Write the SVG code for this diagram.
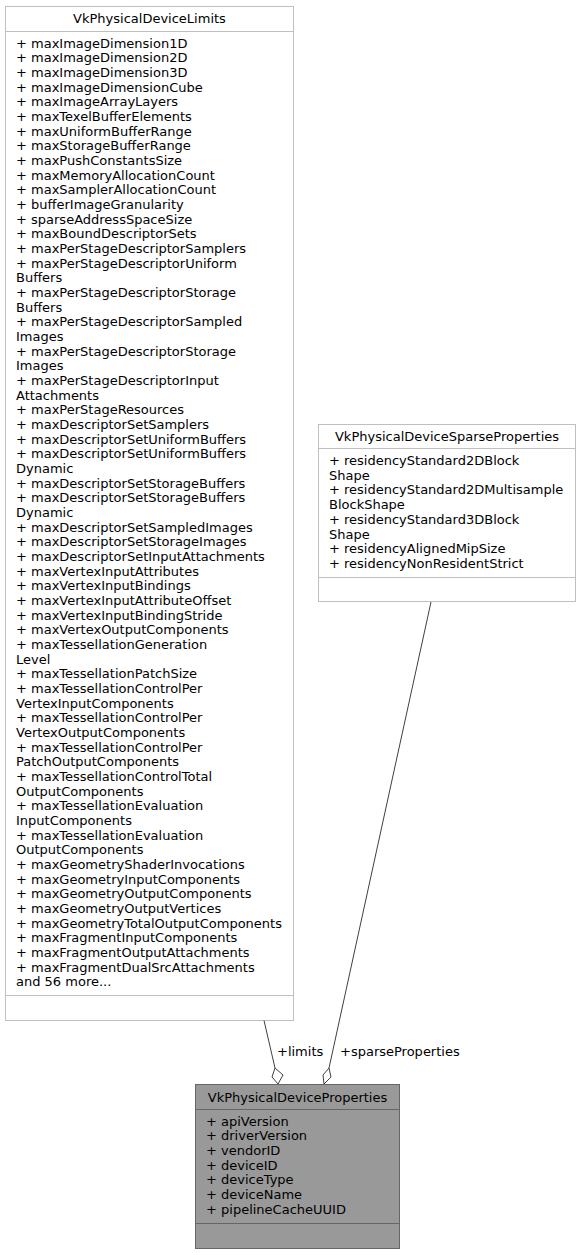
<svg xmlns="http://www.w3.org/2000/svg" width="581" height="1255" viewBox="0 0 581 1255">
<style>
.box{fill:#ffffff;stroke:#bfbfbf;stroke-width:1}
.boxg{fill:#999999;stroke:#666666;stroke-width:1}
.sep{stroke:#bfbfbf;stroke-width:1}
.sepg{stroke:#666666;stroke-width:1}
text{font-family:"DejaVu Sans",sans-serif;font-size:13px;fill:#000000}
.t{text-anchor:middle}
.edge{stroke:#404040;stroke-width:1;fill:none}
.dia{fill:#ffffff;stroke:#404040;stroke-width:1}
</style>
<rect width="581" height="1255" fill="#ffffff"/>
<g id="node-limits">
<rect class="box" x="5.5" y="6.5" width="288" height="1014"/>
<line class="sep" x1="5.5" y1="31.5" x2="293.5" y2="31.5"/>
<line class="sep" x1="5.5" y1="995.5" x2="293.5" y2="995.5"/>
<text class="t" x="149.5" y="23">VkPhysicalDeviceLimits</text>
<text x="16" y="47.5">+ maxImageDimension1D</text>
<text x="16" y="62.17">+ maxImageDimension2D</text>
<text x="16" y="76.84">+ maxImageDimension3D</text>
<text x="16" y="91.51">+ maxImageDimensionCube</text>
<text x="16" y="106.18">+ maxImageArrayLayers</text>
<text x="16" y="120.85">+ maxTexelBufferElements</text>
<text x="16" y="135.52">+ maxUniformBufferRange</text>
<text x="16" y="150.19">+ maxStorageBufferRange</text>
<text x="16" y="164.86">+ maxPushConstantsSize</text>
<text x="16" y="179.53">+ maxMemoryAllocationCount</text>
<text x="16" y="194.2">+ maxSamplerAllocationCount</text>
<text x="16" y="208.87">+ bufferImageGranularity</text>
<text x="16" y="223.54">+ sparseAddressSpaceSize</text>
<text x="16" y="238.21">+ maxBoundDescriptorSets</text>
<text x="16" y="252.88">+ maxPerStageDescriptorSamplers</text>
<text x="16" y="267.55">+ maxPerStageDescriptorUniform</text>
<text x="16" y="282.22">Buffers</text>
<text x="16" y="296.89">+ maxPerStageDescriptorStorage</text>
<text x="16" y="311.56">Buffers</text>
<text x="16" y="326.23">+ maxPerStageDescriptorSampled</text>
<text x="16" y="340.9">Images</text>
<text x="16" y="355.57">+ maxPerStageDescriptorStorage</text>
<text x="16" y="370.24">Images</text>
<text x="16" y="384.91">+ maxPerStageDescriptorInput</text>
<text x="16" y="399.58">Attachments</text>
<text x="16" y="414.25">+ maxPerStageResources</text>
<text x="16" y="428.92">+ maxDescriptorSetSamplers</text>
<text x="16" y="443.59">+ maxDescriptorSetUniformBuffers</text>
<text x="16" y="458.26">+ maxDescriptorSetUniformBuffers</text>
<text x="16" y="472.93">Dynamic</text>
<text x="16" y="487.6">+ maxDescriptorSetStorageBuffers</text>
<text x="16" y="502.27">+ maxDescriptorSetStorageBuffers</text>
<text x="16" y="516.94">Dynamic</text>
<text x="16" y="531.61">+ maxDescriptorSetSampledImages</text>
<text x="16" y="546.28">+ maxDescriptorSetStorageImages</text>
<text x="16" y="560.95">+ maxDescriptorSetInputAttachments</text>
<text x="16" y="575.62">+ maxVertexInputAttributes</text>
<text x="16" y="590.29">+ maxVertexInputBindings</text>
<text x="16" y="604.96">+ maxVertexInputAttributeOffset</text>
<text x="16" y="619.63">+ maxVertexInputBindingStride</text>
<text x="16" y="634.3">+ maxVertexOutputComponents</text>
<text x="16" y="648.97">+ maxTessellationGeneration</text>
<text x="16" y="663.64">Level</text>
<text x="16" y="678.31">+ maxTessellationPatchSize</text>
<text x="16" y="692.98">+ maxTessellationControlPer</text>
<text x="16" y="707.65">VertexInputComponents</text>
<text x="16" y="722.32">+ maxTessellationControlPer</text>
<text x="16" y="736.99">VertexOutputComponents</text>
<text x="16" y="751.66">+ maxTessellationControlPer</text>
<text x="16" y="766.33">PatchOutputComponents</text>
<text x="16" y="781">+ maxTessellationControlTotal</text>
<text x="16" y="795.67">OutputComponents</text>
<text x="16" y="810.34">+ maxTessellationEvaluation</text>
<text x="16" y="825.01">InputComponents</text>
<text x="16" y="839.68">+ maxTessellationEvaluation</text>
<text x="16" y="854.35">OutputComponents</text>
<text x="16" y="869.02">+ maxGeometryShaderInvocations</text>
<text x="16" y="883.69">+ maxGeometryInputComponents</text>
<text x="16" y="898.36">+ maxGeometryOutputComponents</text>
<text x="16" y="913.03">+ maxGeometryOutputVertices</text>
<text x="16" y="927.7">+ maxGeometryTotalOutputComponents</text>
<text x="16" y="942.37">+ maxFragmentInputComponents</text>
<text x="16" y="957.04">+ maxFragmentOutputAttachments</text>
<text x="16" y="971.71">+ maxFragmentDualSrcAttachments</text>
<text x="16" y="986.38">and 56 more...</text>
</g>
<g id="node-sparse">
<rect class="box" x="318.5" y="424.5" width="257" height="177"/>
<line class="sep" x1="318.5" y1="448.5" x2="575.5" y2="448.5"/>
<line class="sep" x1="318.5" y1="577.5" x2="575.5" y2="577.5"/>
<text class="t" x="447" y="441">VkPhysicalDeviceSparseProperties</text>
<text x="329" y="465">+ residencyStandard2DBlock</text>
<text x="329" y="479.7">Shape</text>
<text x="329" y="494.4">+ residencyStandard2DMultisample</text>
<text x="329" y="509.1">BlockShape</text>
<text x="329" y="523.8">+ residencyStandard3DBlock</text>
<text x="329" y="538.5">Shape</text>
<text x="329" y="553.2">+ residencyAlignedMipSize</text>
<text x="329" y="567.9">+ residencyNonResidentStrict</text>
</g>
<g id="node-properties">
<rect class="boxg" x="195.5" y="1084.5" width="204" height="164"/>
<line class="sepg" x1="195.5" y1="1109.5" x2="399.5" y2="1109.5"/>
<line class="sepg" x1="195.5" y1="1223.5" x2="399.5" y2="1223.5"/>
<text class="t" x="297.5" y="1101.5">VkPhysicalDeviceProperties</text>
<text x="206" y="1125.5">+ apiVersion</text>
<text x="206" y="1140.17">+ driverVersion</text>
<text x="206" y="1154.84">+ vendorID</text>
<text x="206" y="1169.51">+ deviceID</text>
<text x="206" y="1184.18">+ deviceType</text>
<text x="206" y="1198.85">+ deviceName</text>
<text x="206" y="1213.52">+ pipelineCacheUUID</text>
</g>
<g id="connectors">
<g id="edge-limits">
<path class="edge" d="M264,1020.5 L275,1068"/>
<path class="dia" d="M278,1084 L272,1077 L275,1068 L283,1075 Z"/>
<text x="277" y="1055.5">+limits</text>
</g>
<g id="edge-sparse">
<path class="edge" d="M431,602 L329,1068"/>
<path class="dia" d="M324,1084 L323,1075 L329,1068 L331,1077 Z"/>
<text x="340" y="1055.5">+sparseProperties</text>
</g>
</g>
</svg>
